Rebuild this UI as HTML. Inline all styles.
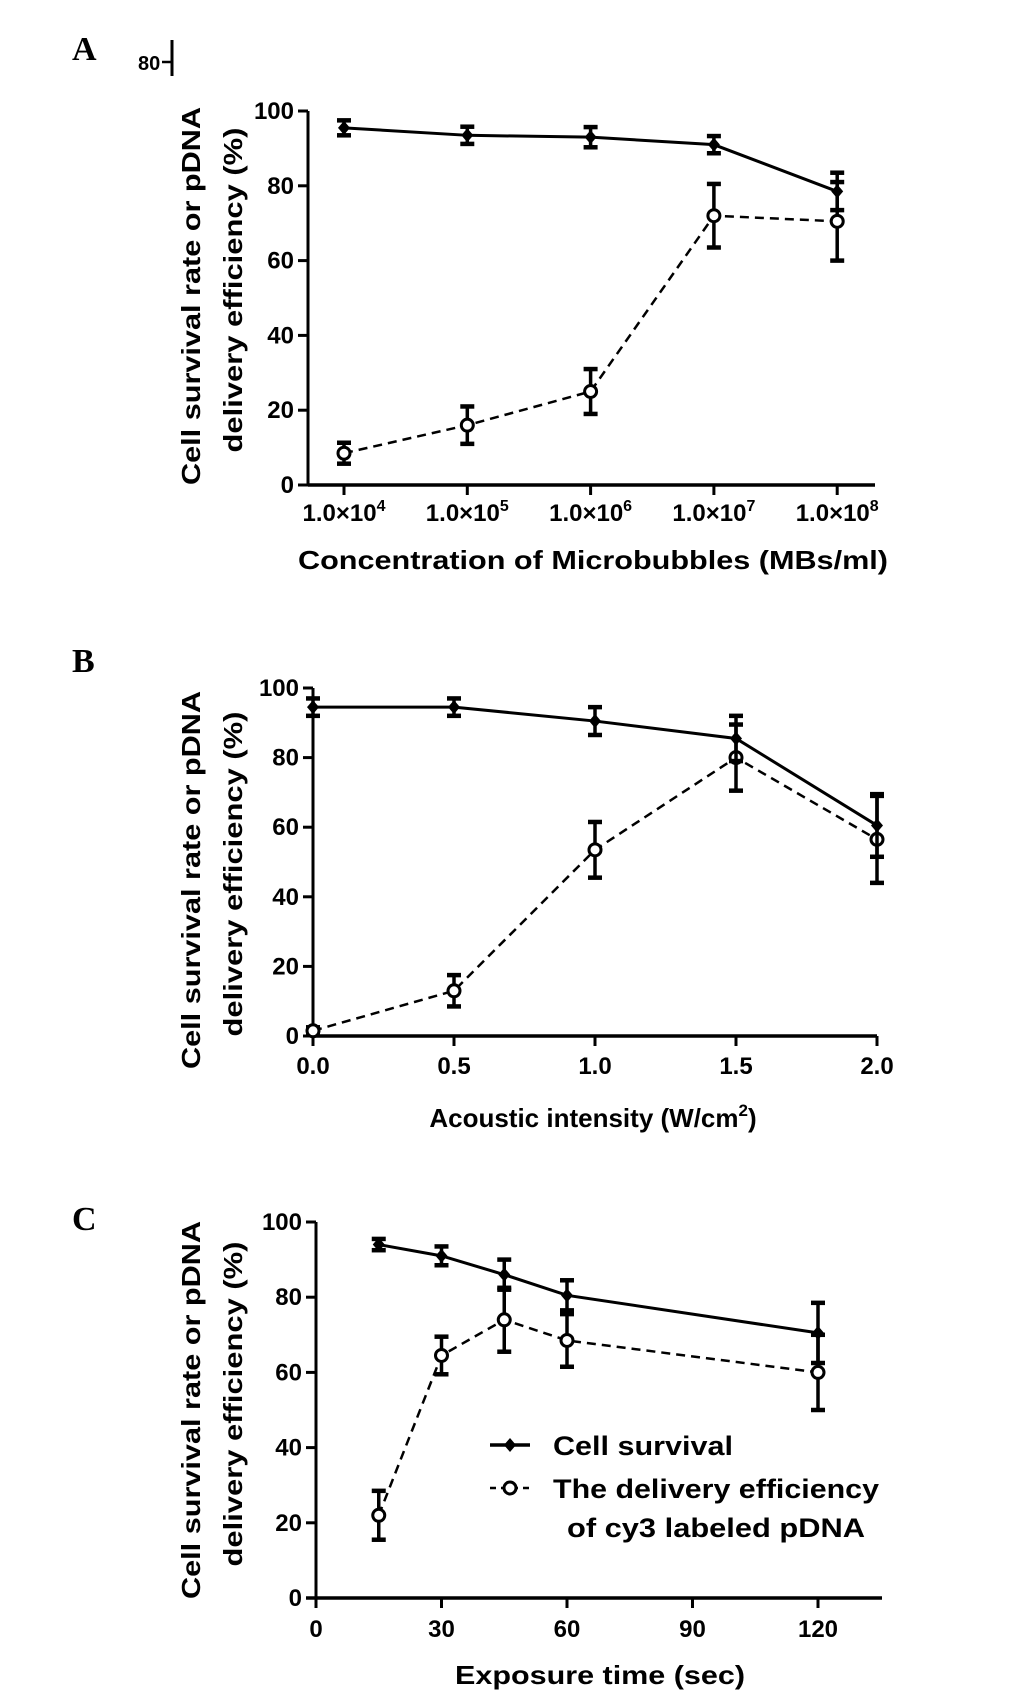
<!DOCTYPE html>
<html><head><meta charset="utf-8"><style>
html,body{margin:0;padding:0;background:#fff;}
svg{display:block;font-family:"Liberation Sans",Arial,sans-serif;}
</style></head><body>
<svg id="fig" width="1033" height="1708" viewBox="0 0 1033 1708" xmlns="http://www.w3.org/2000/svg">
<g font-family="Liberation Serif,serif" font-weight="bold" font-size="34">
<text x="72" y="60">A</text>
<text x="72" y="672">B</text>
<text x="72" y="1230">C</text>
</g>
<g>
<text x="138" y="70" font-size="20" font-weight="bold">80</text>
<line x1="162" y1="62" x2="172" y2="62" stroke="#000" stroke-width="2.5"/>
<line x1="172" y1="40" x2="172" y2="76" stroke="#000" stroke-width="3"/>
</g>
</svg>
<script>
// Panel A data
const catsA = ["1.0×10|4","1.0×10|5","1.0×10|6","1.0×10|7","1.0×10|8"];
const survA = [95.5, 93.5, 93, 91, 78.5];
const survErrA = [2, 2.3, 2.7, 2.3, 5];
const delivA = [8.5, 16, 25, 72, 70.5];
const delivErrA = [2.8, 5, 6, 8.5, 10.5];
// Panel B data
const xB = [0, 0.5, 1.0, 1.5, 2.0];
const xTicksB = ["0.0","0.5","1.0","1.5","2.0"];
const survB = [94.5, 94.5, 90.5, 85.5, 60.5];
const survErrB = [2.5, 2.5, 4, 6.5, 9];
const delivB = [1.5, 13, 53.5, 80, 56.5];
const delivErrB = [1, 4.5, 8, 9.5, 12.5];
// Panel C data
const xC = [15, 30, 45, 60, 120];
const xTicksC = [0, 30, 60, 90, 120];
const survC = [94, 91, 86, 80.5, 70.5];
const survErrC = [1.5, 2.5, 4, 4, 8];
const delivC = [22, 64.5, 74, 68.5, 60];
const delivErrC = [6.5, 5, 8.5, 7, 10];
const yTicks = [0, 20, 40, 60, 80, 100];

const NS = "http://www.w3.org/2000/svg";
const svg = document.getElementById("fig");
function mk(tag, attrs, parent){
  const e = document.createElementNS(NS, tag);
  for (const k in attrs) e.setAttribute(k, attrs[k]);
  (parent||svg).appendChild(e);
  return e;
}

function panel(cfg){
  const g = mk("g", {});
  
  
  const y = v => cfg.y0 - (v/100)*(cfg.y0-cfg.y100);
  const x = cfg.xf;
  const ya = mk("line",{x1:cfg.ax,y1:cfg.y100,x2:cfg.ax,y2:cfg.y0+(cfg.crossDown||0),stroke:"#000","stroke-width":3},g);
  
  
  yTicks.forEach(t=>{
    mk("line",{x1:cfg.ax-10,y1:y(t),x2:cfg.ax,y2:y(t),stroke:"#000","stroke-width":3},g);
    const tl = mk("text",{x:cfg.ax-14,y:y(t)+8,"text-anchor":"end","font-size":24,"font-weight":"bold"},g);
    tl.textContent = t;
    
    
  });
  const xa = mk("line",{x1:cfg.ax-(cfg.xLeftExt||0),y1:cfg.y0,x2:cfg.xEnd,y2:cfg.y0,stroke:"#000","stroke-width":3.5},g);
  
  
  cfg.ticks.forEach((t,i)=>{
    const tx = cfg.tickX(t,i);
    mk("line",{x1:tx,y1:cfg.y0,x2:tx,y2:cfg.y0+10,stroke:"#000","stroke-width":3},g);
    const lab = cfg.tickLabel(t,i);
    const tl = mk("text",{x:tx,y:cfg.tickY,"text-anchor":"middle","font-size":24,"font-weight":"bold"},g);
    
    
    if (String(lab).includes("|")){
      const [base, sup] = String(lab).split("|");
      const s1 = mk("tspan",{},tl); s1.textContent = base;
      const s2 = mk("tspan",{dy:-10,"font-size":16},tl); s2.textContent = sup;
    } else tl.textContent = lab;
  });
  const xt = mk("text",{x:cfg.xTitleX,y:cfg.xTitleY,"text-anchor":"middle","font-size":26,"font-weight":"bold"},g);
  
  
  if (cfg.xTitleSup){
    const a = mk("tspan",{},xt); a.textContent = cfg.xTitle;
    const b = mk("tspan",{dy:-11,"font-size":17},xt); b.textContent = cfg.xTitleSup;
    const c = mk("tspan",{dy:11},xt); c.textContent = ")";
  } else { xt.setAttribute("textLength", cfg.xTitleLen); xt.setAttribute("lengthAdjust","spacingAndGlyphs"); xt.textContent = cfg.xTitle; }
  const cy = cfg.yTitleCY;
  const t1 = mk("text",{x:0,y:0,transform:`translate(200,${cy}) rotate(-90)`,"text-anchor":"middle","font-size":26,"font-weight":"bold",textLength:378,lengthAdjust:"spacingAndGlyphs"},g);
  t1.textContent = "Cell survival rate or pDNA";
  
  
  const t2 = mk("text",{x:0,y:0,transform:`translate(242,${cy-6}) rotate(-90)`,"text-anchor":"middle","font-size":26,"font-weight":"bold",textLength:325,lengthAdjust:"spacingAndGlyphs"},g);
  t2.textContent = "delivery efficiency (%)";
  
  

  function series(vals, errs, dashed, name){
    const sg = mk("g",{},g);
    
    
    const pts = vals.map((v,i)=>`${x(i)},${y(v)}`).join(" ");
    mk("polyline",{points:pts,fill:"none",stroke:"#000","stroke-width":dashed?2.5:3,"stroke-dasharray":dashed?"9,6":"none"},sg);
    vals.forEach((v,i)=>{
      const px=x(i), hi=y(v+errs[i]), lo=y(v-errs[i]);
      const eb = mk("g",{},sg);
      
      
      mk("line",{x1:px,y1:hi,x2:px,y2:lo,stroke:"#000","stroke-width":3.5},eb);
      mk("line",{x1:px-7,y1:hi,x2:px+7,y2:hi,stroke:"#000","stroke-width":4.5},eb);
      mk("line",{x1:px-7,y1:lo,x2:px+7,y2:lo,stroke:"#000","stroke-width":4.5},eb);
      let m;
      if (dashed) m = mk("circle",{cx:px,cy:y(v),r:6,fill:"#fff",stroke:"#000","stroke-width":3},sg);
      else m = mk("polygon",{points:`${px},${y(v)-7} ${px+6},${y(v)} ${px},${y(v)+7} ${px-6},${y(v)}`,fill:"#000"},sg);
      
      
    });
  }
  series(cfg.deliv, cfg.delivErr, true, "delivery-series");
  series(cfg.surv, cfg.survErr, false, "survival-series");
}

panel({name:"panel-a", ax:308, y0:485, y100:111, xEnd:875,
  xf:i=>344+i*123.3, ticks:catsA, tickX:(t,i)=>344+i*123.3, tickLabel:t=>t, tickY:521,
  xTitle:"Concentration of Microbubbles (MBs/ml)", xTitleX:593, xTitleY:569, xTitleLen:590,
  yTitleCY:296, surv:survA, survErr:survErrA, deliv:delivA, delivErr:delivErrA});

const bx = v => 313 + v/2*(877-313);
panel({name:"panel-b", ax:313, y0:1036, y100:688, xEnd:877,
  xf:i=>bx(xB[i]), ticks:xTicksB, tickX:(t,i)=>bx(xB[i]), tickLabel:t=>t, tickY:1074,
  xTitle:"Acoustic intensity (W/cm", xTitleSup:"2", xTitleX:593, xTitleY:1127,
  yTitleCY:880, surv:survB, survErr:survErrB, deliv:delivB, delivErr:delivErrB});

const cx = v => 316 + v/120*(818-316);
panel({name:"panel-c", ax:316, y0:1598, y100:1222, xEnd:882, xLeftExt:10, crossDown:10,
  xf:i=>cx(xC[i]), ticks:xTicksC, tickX:t=>cx(t), tickLabel:t=>t, tickY:1637,
  xTitle:"Exposure time (sec)", xTitleX:600, xTitleY:1684, xTitleLen:290,
  yTitleCY:1410, surv:survC, survErr:survErrC, deliv:delivC, delivErr:delivErrC});

const lg = mk("g",{});


const l1 = mk("g",{},lg);


mk("line",{x1:490,y1:1445,x2:530,y2:1445,stroke:"#000","stroke-width":3.5},l1);
mk("polygon",{points:"510,1438 516,1445 510,1452 504,1445",fill:"#000"},l1);
const lt1 = mk("text",{x:553,y:1455,"font-size":27,"font-weight":"bold",textLength:180,lengthAdjust:"spacingAndGlyphs"},l1);
lt1.textContent = "Cell survival";
const l2 = mk("g",{},lg);


mk("line",{x1:490,y1:1488,x2:530,y2:1488,stroke:"#000","stroke-width":2.5,"stroke-dasharray":"6,5"},l2);
mk("circle",{cx:510,cy:1488,r:6,fill:"#fff",stroke:"#000","stroke-width":3},l2);
const lt2 = mk("text",{x:553,y:1498,"font-size":27,"font-weight":"bold",textLength:326,lengthAdjust:"spacingAndGlyphs"},l2);
lt2.textContent = "The delivery efficiency";
const lt3 = mk("text",{x:567,y:1537,"font-size":27,"font-weight":"bold",textLength:298,lengthAdjust:"spacingAndGlyphs"},l2);
lt3.textContent = "of cy3 labeled pDNA";
</script>
</body></html>
